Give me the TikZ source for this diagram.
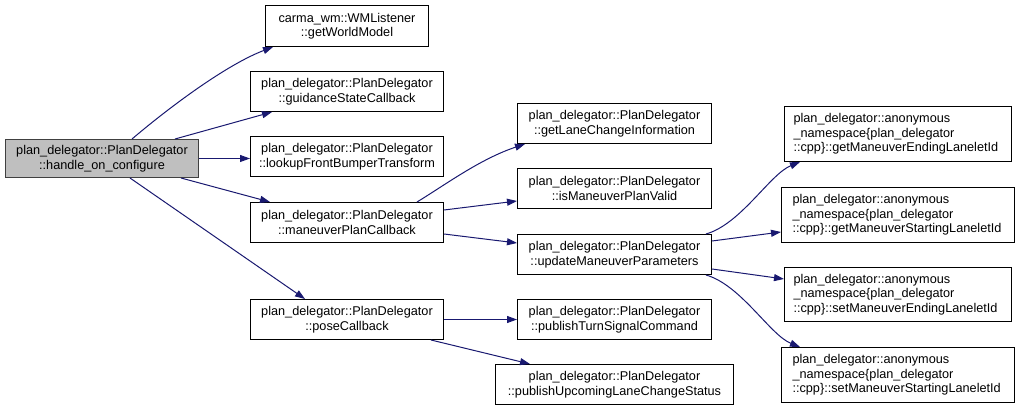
\documentclass[tikz,border=0pt]{standalone}
\usepackage{fontspec}
\setmainfont{Liberation Sans}
\usetikzlibrary{arrows.meta}
\definecolor{edgeblue}{HTML}{191970}
\tikzset{
  box/.style={draw=black, line width=1pt, anchor=north west, inner sep=0pt, align=center,
    font=\fontsize{12.7}{14.5}\selectfont},
  rootbox/.style={box, fill=black!25, draw=black!75},
  lbox/.style={draw=black, line width=1pt, anchor=north west, inner ysep=0pt, align=left,
    font=\fontsize{12.7}{14.5}\selectfont},
  edge/.style={draw=edgeblue, line width=1pt, -{Triangle[length=10pt,width=7pt]}}
}
\begin{document}
\begin{tikzpicture}[x=1pt,y=-1pt]
\useasboundingbox (0,0) rectangle (1020,411);
% column 1
\node[rootbox, minimum width=193pt, minimum height=38pt] (root) at (5,139) {plan\_delegator::PlanDelegator\\::handle\_on\_configure};
% column 2
\node[box, minimum width=163pt, minimum height=41pt] (gwm) at (265,5) {carma\_wm::WMListener\\::getWorldModel};
\node[box, minimum width=193pt, minimum height=40pt] (gsc) at (250,71) {plan\_delegator::PlanDelegator\\::guidanceStateCallback};
\node[box, minimum width=193pt, minimum height=40pt] (lfb) at (250,136) {plan\_delegator::PlanDelegator\\::lookupFrontBumperTransform};
\node[box, minimum width=193pt, minimum height=40pt] (mpc) at (250,202) {plan\_delegator::PlanDelegator\\::maneuverPlanCallback};
\node[box, minimum width=193pt, minimum height=40pt] (pcb) at (250,299) {plan\_delegator::PlanDelegator\\::poseCallback};
% column 3
\node[box, minimum width=194pt, minimum height=40pt] (glc) at (517,103) {plan\_delegator::PlanDelegator\\::getLaneChangeInformation};
\node[box, minimum width=194pt, minimum height=40pt] (imv) at (517,168) {plan\_delegator::PlanDelegator\\::isManeuverPlanValid};
\node[box, minimum width=194pt, minimum height=40pt] (ump) at (517,234) {plan\_delegator::PlanDelegator\\::updateManeuverParameters};
\node[box, minimum width=194pt, minimum height=40pt] (pts) at (517,299) {plan\_delegator::PlanDelegator\\::publishTurnSignalCommand};
\node[box, minimum width=238pt, minimum height=40pt] (pul) at (495,364) {plan\_delegator::PlanDelegator\\::publishUpcomingLaneChangeStatus};
% column 4
\node[lbox, minimum width=227pt, minimum height=55pt, inner xsep=9pt, text width=209pt] (gme) at (784,106) {plan\_delegator::anonymous\\\_namespace\{plan\_delegator\\::cpp\}::getManeuverEndingLaneletId};
\node[lbox, minimum width=233pt, minimum height=55pt, inner xsep=11pt, text width=211pt] (gms) at (781,187) {plan\_delegator::anonymous\\\_namespace\{plan\_delegator\\::cpp\}::getManeuverStartingLaneletId};
\node[lbox, minimum width=227pt, minimum height=54pt, inner xsep=9pt, text width=209pt] (sme) at (784,267) {plan\_delegator::anonymous\\\_namespace\{plan\_delegator\\::cpp\}::setManeuverEndingLaneletId};
\node[lbox, minimum width=233pt, minimum height=55pt, inner xsep=11pt, text width=211pt] (sms) at (781,347) {plan\_delegator::anonymous\\\_namespace\{plan\_delegator\\::cpp\}::setManeuverStartingLaneletId};
% edges
\draw[edge] ([xshift=127pt]root.north west) .. controls +(40,-34) and +(-45,17) .. ([xshift=8pt]gwm.south west);
\draw[edge] ([xshift=170pt]root.north west) -- ([xshift=22pt]gsc.south west);
\draw[edge] (root.east) -- (lfb.west |- root.east);
\draw[edge] ([xshift=-18pt]root.south east) -- ([xshift=20pt]mpc.north west);
\draw[edge] ([xshift=125pt]root.south west) -- ([xshift=55pt]pcb.north west);
\draw[edge] ([xshift=167pt]mpc.north west) .. controls +(28,-17) and +(-45,15) .. ([xshift=8pt]glc.south west);
\draw[edge] ([yshift=-8pt]mpc.north east) -- ([yshift=8pt]imv.south west);
\draw[edge] ([yshift=9pt]mpc.south east) -- ([yshift=-9pt]ump.north west);
\draw[edge] (pcb.east) -- (pts.west);
\draw[edge] ([xshift=-13pt]pcb.south east) -- ([xshift=35pt]pul.north west);
\draw[edge] ([xshift=-6pt]ump.north east) .. controls +(35,-10) and +(-30,12) .. ([xshift=16pt]gme.south west);
\draw[edge] ([yshift=-7pt]ump.north east) -- ([yshift=11pt]gms.south west);
\draw[edge] ([yshift=6pt]ump.south east) -- ([yshift=-12pt]sme.north west);
\draw[edge] ([xshift=-6pt]ump.south east) .. controls +(35,10) and +(-30,-12) .. ([xshift=19pt]sms.north west);
\end{tikzpicture}
\end{document}
